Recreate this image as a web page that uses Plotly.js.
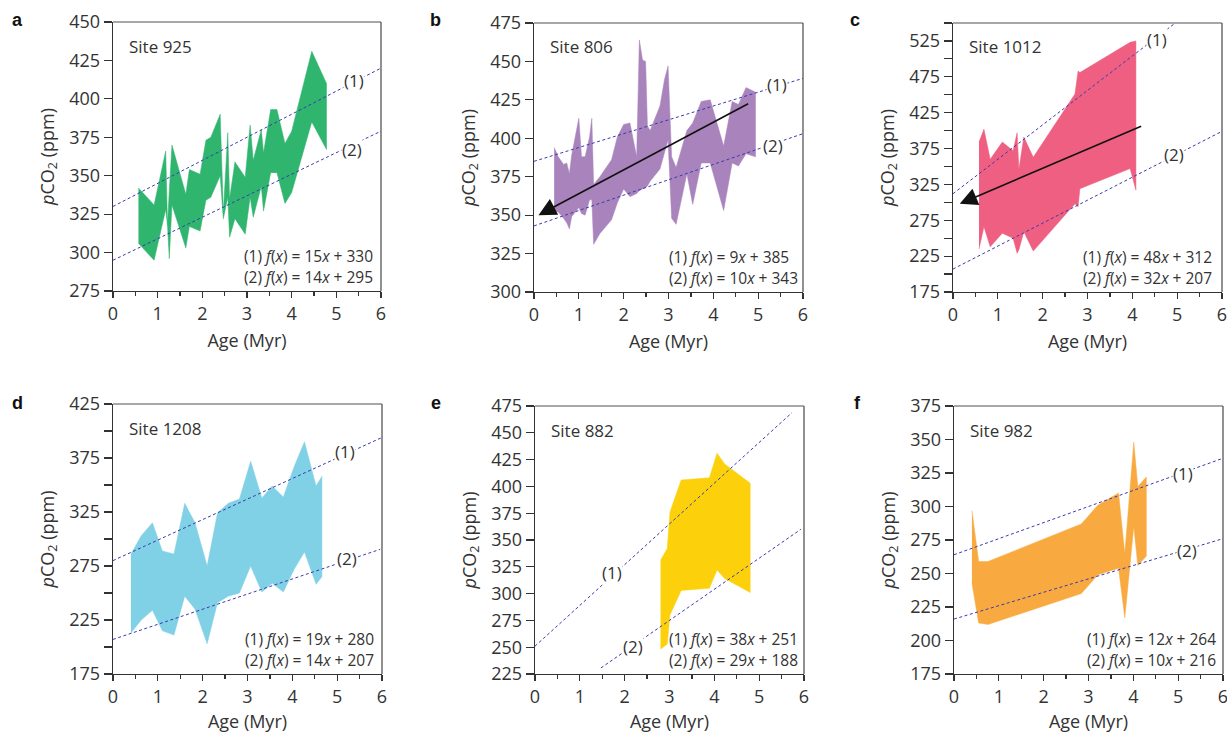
<!DOCTYPE html>
<html><head><meta charset="utf-8">
<script src="https://cdn.plot.ly/plotly-3.0.1.min.js"></script>
<style>html,body{margin:0;padding:0;background:#fff}#chart{width:1227px;height:733px}</style>
</head><body><div id="chart"></div>
<script>
// ---------- DATA ----------
const siteNames = ["Site 925", "Site 806", "Site 1012", "Site 1208", "Site 882", "Site 982"];
const panelLetters = ["a", "b", "c", "d", "e", "f"];

// Site 925
const age925 = [0.57, 0.92, 1.18, 1.22, 1.26, 1.32, 1.63, 1.71, 1.95, 2.08, 2.19, 2.40, 2.47, 2.57, 2.61, 2.73, 2.96, 3.07, 3.14, 3.32, 3.37, 3.53, 3.67, 3.85, 4.00, 4.45, 4.78];
const upper925 = [342, 331, 366, 318, 340, 370, 338, 354, 351, 373, 375, 390, 326, 378, 335, 359, 349, 383, 360, 380, 365, 393, 393, 371, 379, 431, 410];
const lower925 = [306, 295, 328, 318, 296, 331, 303, 317, 314, 334, 336, 350, 322, 336, 310, 322, 312, 336, 323, 343, 327, 352, 352, 332, 339, 385, 367];

// Site 806
const age806 = [0.45, 0.54, 0.66, 0.73, 0.79, 0.84, 1.00, 1.06, 1.14, 1.24, 1.29, 1.33, 1.47, 1.73, 1.86, 2.00, 2.14, 2.29, 2.35, 2.42, 2.49, 2.53, 2.59, 2.81, 2.91, 2.99, 3.07, 3.17, 3.41, 3.54, 3.73, 3.93, 4.23, 4.42, 4.56, 4.73, 4.94];
const upper806 = [394, 388, 383, 384, 377, 389, 413, 388, 388, 401, 413, 370, 375, 386, 401, 409, 410, 388, 464, 451, 450, 408, 405, 421, 438, 447, 388, 381, 405, 410, 424, 425, 395, 424, 422, 433, 430];
const lower806 = [353, 352, 348, 345, 341, 349, 355, 351, 350, 360, 360, 331, 338, 347, 358, 367, 362, 364, 366, 367, 368, 369, 372, 380, 390, 399, 348, 344, 377, 357, 384, 384, 353, 384, 382, 390, 388];

// Site 1012
const age1012 = [0.58, 0.69, 0.83, 1.10, 1.34, 1.43, 1.47, 1.58, 1.79, 2.72, 2.79, 2.83, 3.95, 4.08];
const upper1012 = [384, 402, 360, 384, 372, 397, 346, 391, 363, 451, 483, 481, 523, 525];
const lower1012 = [235, 266, 238, 257, 250, 229, 234, 259, 232, 298, 294, 319, 347, 317];

// Site 1208
const age1208 = [0.40, 0.63, 0.88, 1.10, 1.36, 1.60, 1.83, 2.10, 2.33, 2.57, 2.82, 3.07, 3.32, 3.55, 3.80, 4.04, 4.27, 4.53, 4.66];
const upper1208 = [286, 303, 315, 289, 286, 333, 315, 275, 324, 333, 337, 372, 338, 349, 339, 367, 390, 349, 358];
const lower1208 = [213, 225, 234, 215, 211, 247, 235, 203, 241, 247, 250, 275, 251, 259, 251, 272, 288, 258, 265];

// Site 882
const age882 = [2.80, 2.95, 3.01, 3.26, 3.89, 4.06, 4.23, 4.80];
const upper882 = [331, 342, 376, 406, 408, 431, 421, 403];
const lower882 = [248, 253, 280, 303, 305, 322, 314, 301];

// Site 982
const age982 = [0.40, 0.55, 0.76, 2.84, 3.21, 3.67, 3.81, 4.01, 4.10, 4.29];
const upper982 = [297, 259, 259, 287, 301, 310, 265, 348, 315, 322];
const lower982 = [243, 213, 212, 235, 249, 254, 217, 285, 256, 263];

// Regression fits [slope, intercept]
const fit1 = [[15, 330], [9, 385], [48, 312], [19, 280], [38, 251], [12, 264]];
const fit2 = [[14, 295], [10, 343], [32, 207], [14, 207], [29, 188], [10, 216]];
// Age span over which each fit line is drawn
const fit1Span = [[0, 6], [0, 6], [0, 6], [0, 6], [0, 5.73], [0, 6]];
const fit2Span = [[0, 6], [0, 6], [0, 6], [0, 5.96], [1.47, 5.93], [0, 6]];

// Trend arrows (Sites 806, 1012): [startAge, startCO2, tipAge, tipCO2]
const arrow806 = [4.81, 423, 0.10, 350];
const arrow1012 = [4.23, 407, 0.15, 298];

// Y-axis ranges and tick spacing
const yRanges = [[275, 450], [300, 475], [175, 550], [175, 425], [225, 475], [175, 375]];
const yLabelStep = [25, 25, 50, 50, 25, 25];

// Positions of the "(1)" / "(2)" line labels [age, pCO2]
const lab1Pos = [[5.39, 412], [5.42, 435], [4.56, 527], [5.18, 381], [1.72, 320], [5.11, 325]];
const lab2Pos = [[5.36, 367], [5.32, 395], [4.94, 366], [5.23, 282], [2.18, 251], [5.20, 267]];

// ---------- BUILD ----------
const ages = [age925, age806, age1012, age1208, age882, age982];
const uppers = [upper925, upper806, upper1012, upper1208, upper882, upper982];
const lowers = [lower925, lower806, lower1012, lower1208, lower882, lower982];
const fills = ["#2fb56e", "#a983bc", "#ef5f81", "#80d1e6", "#fcd00b", "#f8aa41"];
const dashCol = "#3a3ab0";
const ink = "#333";

// plot boxes in pixels [left, right, top, bottom]
const boxes = [[113, 381, 22, 291], [534, 803, 23, 292], [953, 1222, 23, 292],
               [113, 382, 404, 674], [535, 804, 406, 674], [954, 1223, 406, 674]];
const W = 1227, H = 733;
const eqLeft = [129, 133, 128, 130, 132, 131];
const letterPos = [[17, 20], [435, 20], [855, 20], [17, 403], [436, 403], [857, 403]];

const traces = [];
const layout = {
  width: W, height: H, margin: {l: 0, r: 0, t: 0, b: 0},
  paper_bgcolor: "#fff", plot_bgcolor: "#fff", showlegend: false,
  font: {family: "Open Sans, sans-serif", color: ink, size: 18},
  annotations: [], shapes: []
};

for (let i = 0; i < 6; i++) {
  const xs = i === 0 ? "x" : "x" + (i + 1);
  const ys = i === 0 ? "y" : "y" + (i + 1);
  const xk = i === 0 ? "xaxis" : "xaxis" + (i + 1);
  const yk = i === 0 ? "yaxis" : "yaxis" + (i + 1);
  const [L, R, T, B] = boxes[i];

  traces.push({
    type: "scatter", mode: "lines", xaxis: xs, yaxis: ys,
    x: ages[i].concat(ages[i].slice().reverse()),
    y: uppers[i].concat(lowers[i].slice().reverse()),
    fill: "toself", fillcolor: fills[i],
    line: {color: fills[i], width: 0.5}, hoverinfo: "skip"
  });
  [[fit1[i], fit1Span[i]], [fit2[i], fit2Span[i]]].forEach(([f, s]) => {
    traces.push({
      type: "scatter", mode: "lines", xaxis: xs, yaxis: ys,
      x: s, y: s.map(a => f[0] * a + f[1]),
      line: {color: dashCol, width: 1, dash: "3px,2.5px"}, hoverinfo: "skip"
    });
  });

  layout[xk] = {
    domain: [L / W, R / W], anchor: ys, range: [0, 6], dtick: 1, tick0: 0,
    ticks: "outside", ticklen: 6, tickwidth: 1.2, tickcolor: ink,
    minor: {dtick: 0.5, ticks: "outside", ticklen: 3.5, tickwidth: 1.2, tickcolor: ink},
    showline: true, linecolor: ink, linewidth: 1.3, mirror: false,
    showgrid: false, zeroline: false, fixedrange: true,
    ticklabeloverflow: "allow",
    tickfont: {size: 18, color: ink},
    title: {text: "Age (Myr)", font: {size: 18, color: ink}, standoff: 10}
  };
  layout[yk] = {
    domain: [1 - B / H, 1 - T / H], anchor: xs, range: yRanges[i],
    tick0: yRanges[i][0], dtick: yLabelStep[i],
    ticks: "outside", ticklen: 8, tickwidth: 1.2, tickcolor: ink,
    minor: yLabelStep[i] === 50 ? {dtick: 25, ticks: "outside", ticklen: 8, tickwidth: 1.2, tickcolor: ink} : undefined,
    showline: true, linecolor: ink, linewidth: 1.3, mirror: false,
    showgrid: false, zeroline: false, fixedrange: true,
    tickfont: {size: 18, color: ink},
    title: {text: "<i>p</i>CO<sub>2</sub> (ppm)", font: {size: 18, color: ink}, standoff: 10}
  };
  // top and right frame edges
  layout.shapes.push({type: "line", xref: xs + " domain", yref: ys + " domain",
    x0: 0, x1: 1, y0: 1, y1: 1, line: {color: "#8a8a8a", width: 1.3}});
  layout.shapes.push({type: "line", xref: xs + " domain", yref: ys + " domain",
    x0: 1, x1: 1, y0: 0, y1: 1, line: {color: "#555", width: 1.3}});

  // panel letter
  layout.annotations.push({
    xref: "paper", yref: "paper", x: letterPos[i][0] / W, y: 1 - letterPos[i][1] / H,
    xanchor: "center", yanchor: "middle", showarrow: false,
    text: "<b>" + panelLetters[i] + "</b>",
    font: {family: "Liberation Sans, Arial, sans-serif", size: 18, color: "#111"}
  });
  // site name
  layout.annotations.push({
    xref: xs + " domain", yref: ys + " domain", x: 14 / (R - L), y: 1 - 24 / (B - T),
    xanchor: "left", yanchor: "middle", showarrow: false, text: siteNames[i],
    font: {size: 17, color: ink}
  });
  // equations
  [fit1[i], fit2[i]].forEach((f, k) => {
    layout.annotations.push({
      xref: xs + " domain", yref: ys + " domain", x: eqLeft[i] / (R - L),
      y: (k === 0 ? 35 : 14) / (B - T),
      xanchor: "left", yanchor: "middle", showarrow: false,
      text: "(" + (k + 1) + ") <i>f</i>(<i>x</i>) = " + f[0] + "<i>x</i> + " + f[1],
      font: {size: 15.5, color: ink}
    });
  });
  // line labels
  [lab1Pos[i], lab2Pos[i]].forEach((p, k) => {
    layout.annotations.push({
      xref: xs, yref: ys, x: p[0], y: p[1], xanchor: "center", yanchor: "middle",
      showarrow: false, text: "(" + (k + 1) + ")", bgcolor: "#fff", borderpad: 0,
      font: {size: 17, color: ink}
    });
  });
}

// arrows
[[1, arrow806], [2, arrow1012]].forEach(([i, a]) => {
  const xs = "x" + (i + 1), ys = "y" + (i + 1);
  layout.annotations.push({
    xref: xs, yref: ys, axref: xs, ayref: ys,
    x: a[2], y: a[3], ax: a[0], ay: a[1], text: "",
    showarrow: true, arrowhead: 2, arrowsize: 2.2, arrowwidth: 1.6, arrowcolor: "#111"
  });
});

Plotly.newPlot("chart", traces, layout, {staticPlot: true, displayModeBar: false});
</script></body></html>
